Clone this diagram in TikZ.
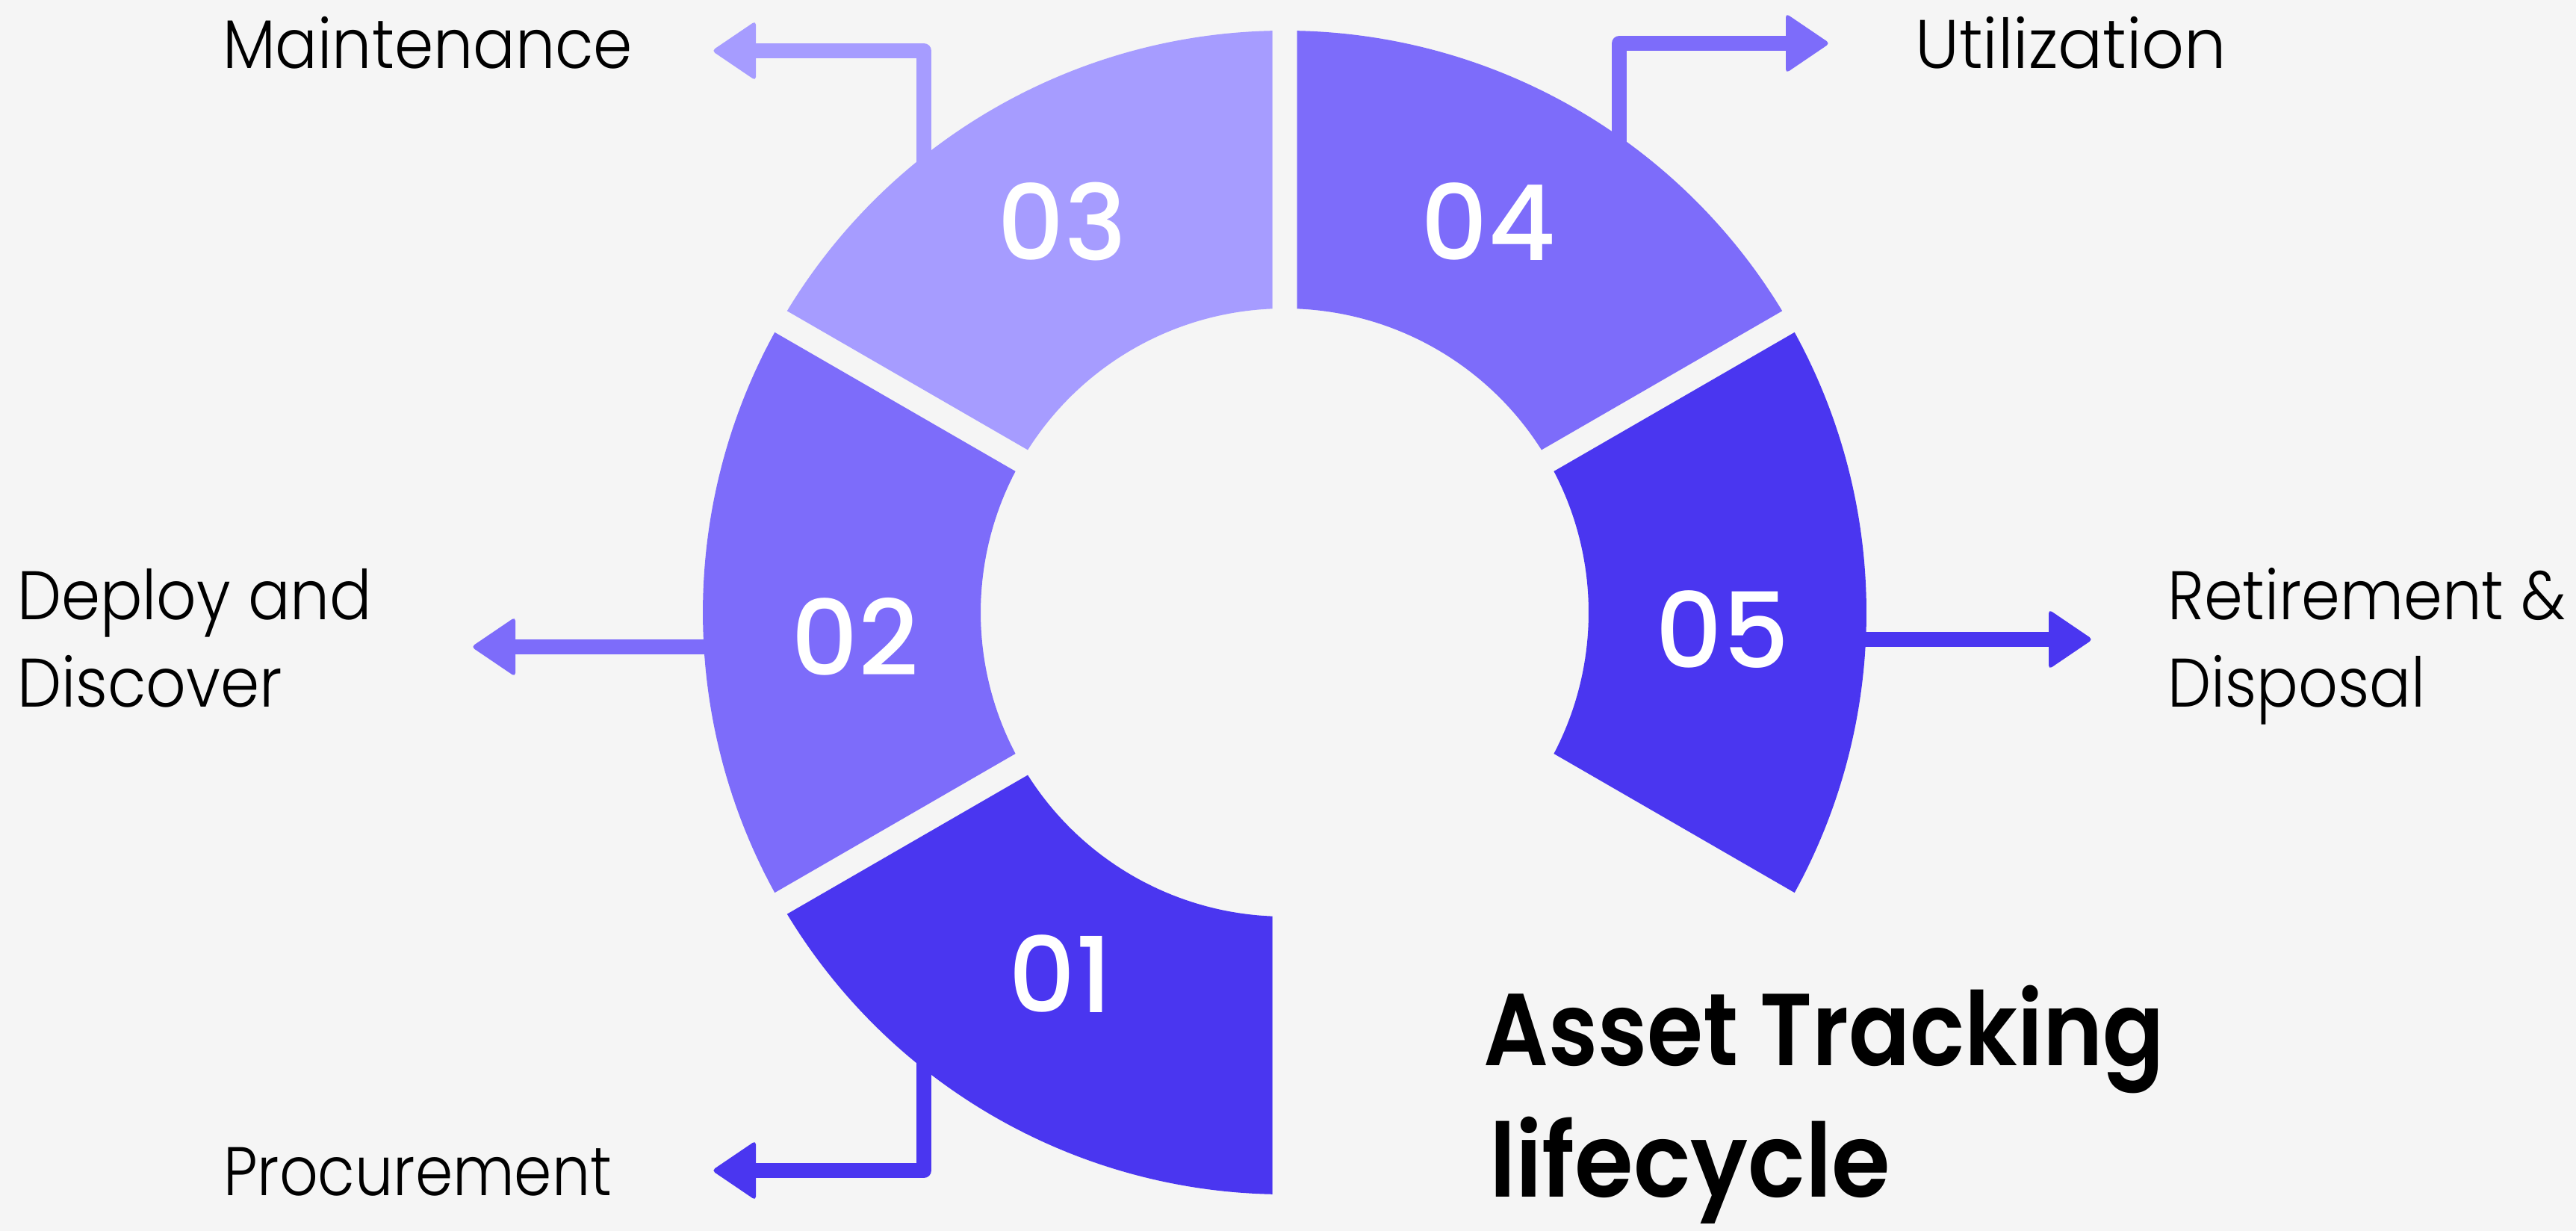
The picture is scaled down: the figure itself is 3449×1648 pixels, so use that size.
\documentclass[tikz,border=0pt]{standalone}
\usepackage{fontspec}
\usepackage{graphicx}
\setmainfont{Poppins}
\IfFontExistsTF{Poppins Light}{\newfontfamily\lblfam{Poppins Light}}{\newfontfamily\lblfam{Poppins}}
\IfFontExistsTF{Poppins Medium}{\newfontfamily\numfam{Poppins Medium}}{\newfontfamily\numfam{Poppins}}
\IfFontExistsTF{Poppins SemiBold}{\newfontfamily\ttlfam{Poppins SemiBold}}{\newfontfamily\ttlfam{Poppins}[FakeBold=2]}
\definecolor{bgc}{HTML}{F5F5F5}
\definecolor{cdark}{HTML}{4A36F0}
\definecolor{cmid}{HTML}{7D6CFA}
\definecolor{clight}{HTML}{A69CFF}
\newcommand\ringseg[3]{%
  \fill[#3] ({#1+1.214}:779) arc[start angle={#1+1.214}, end angle={#2-1.214}, radius=779]
    -- ({#2-2.324}:407) arc[start angle={#2-2.324}, end angle={#1+2.324}, radius=407] -- cycle;}
\newcommand\fitw[2]{\resizebox{#1pt}{\height}{#2}}
\tikzset{
  numtxt/.style={inner sep=0pt, text=white, font=\numfam\fontsize{140}{140}\selectfont},
  lbltxt/.style={inner sep=0pt, anchor=base west, text=black, font=\lblfam\fontsize{92}{110}\selectfont},
  ttltxt/.style={inner sep=0pt, anchor=base west, text=black, font=\ttlfam\fontsize{137}{170}\selectfont},
  shaft/.style={line width=20pt, line join=round, line cap=round},
}
\newcommand\headL[3]{\fill[#3, rounded corners=5pt] (#1,#2+40) -- (#1-59,#2) -- (#1,#2-40) -- cycle;}
\newcommand\headR[3]{\fill[#3, rounded corners=5pt] (#1,#2+40) -- (#1+59,#2) -- (#1,#2-40) -- cycle;}
\begin{document}
\begin{tikzpicture}[x=1pt,y=1pt]
\useasboundingbox (0,0) rectangle (3449,1648);
\fill[bgc] (0,0) rectangle (3449,1648);
\begin{scope}[shift={(1720,828)}]
  \ringseg{210}{270}{cdark}
  \ringseg{150}{210}{cmid}
  \ringseg{90}{150}{clight}
  \ringseg{30}{90}{cmid}
  \ringseg{-30}{30}{cdark}
\end{scope}
% numbers
\node[numtxt] (n01) at (1420,344) {01};
\node[numtxt] (n02) at (1145,796) {02};
\node[numtxt] (n03) at (1422,1351) {03};
\node[numtxt] (n04) at (1993,1351) {04};
\node[numtxt] (n05) at (2306,805) {05};
% labels
\node[lbltxt] (lmaint) at (298,1556) {\fitw{549}{Maintenance}};
\node[lbltxt] (lutil) at (2564,1556) {\fitw{417}{Utilization}};
\node[lbltxt] (lproc) at (299,47) {\fitw{520}{Procurement}};
\node[lbltxt] (ldep1) at (23,818) {\fitw{475}{Deploy and}};
\node[lbltxt] (ldep2) at (23,701) {\fitw{355}{Discover}};
\node[lbltxt] (lret1) at (2902,818) {\fitw{533}{Retirement \&}};
\node[lbltxt] (lret2) at (2902,701) {\fitw{345}{Disposal}};
% title
\node[ttltxt] (t1) at (1986,221) {\fitw{912}{Asset Tracking}};
\node[ttltxt] (t2) at (1994,45) {\fitw{537}{lifecycle}};
% connectors
\coordinate (a3s) at (1237,1395); \coordinate (a3c) at (1237,1580); \coordinate (a3e) at (1012,1580);
\coordinate (a4s) at (2168,1401); \coordinate (a4c) at (2168,1590); \coordinate (a4e) at (2391,1590);
\coordinate (a1s) at (1237,229);  \coordinate (a1c) at (1237,81);   \coordinate (a1e) at (1012,81);
\coordinate (a2s) at (1048,782);  \coordinate (a2e) at (690,782);
\coordinate (a5s) at (2490,792);  \coordinate (a5e) at (2743,792);
\draw[shaft, clight] (a3s) -- (a3c) -- (a3e);
\headL{1012}{1580}{clight}
\draw[shaft, cmid] (a4s) -- (a4c) -- (a4e);
\headR{2391}{1590}{cmid}
\draw[shaft, cdark] (a1s) -- (a1c) -- (a1e);
\headL{1012}{81}{cdark}
\draw[shaft, cmid] (a2s) -- (a2e);
\headL{690}{782}{cmid}
\draw[shaft, cdark] (a5s) -- (a5e);
\headR{2743}{792}{cdark}
\end{tikzpicture}
\end{document}
